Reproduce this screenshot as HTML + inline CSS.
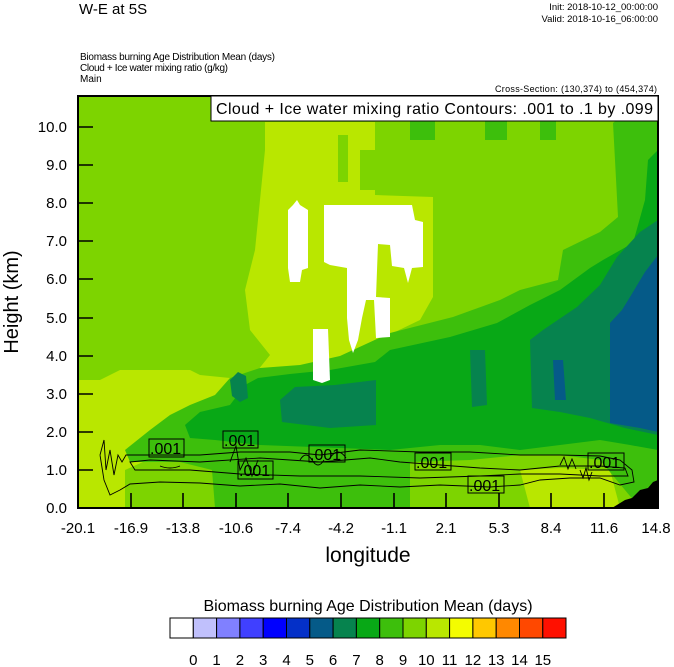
<!DOCTYPE html>
<html><head><meta charset="utf-8"><style>
body{margin:0;background:#fff;width:674px;height:667px;overflow:hidden}
svg{display:block}
text{font-family:"Liberation Sans",Arial,sans-serif;fill:#000}
</style></head><body>
<svg width="674" height="667" viewBox="0 0 674 667" xmlns="http://www.w3.org/2000/svg">
<text x="79" y="14" font-size="15">W-E at 5S</text>
<text x="658" y="10" font-size="9.5" text-anchor="end">Init: 2018-10-12_00:00:00</text>
<text x="658" y="22" font-size="9.5" text-anchor="end">Valid: 2018-10-16_06:00:00</text>
<text x="80" y="60" font-size="10" textLength="195">Biomass burning Age Distribution Mean   (days)</text>
<text x="80" y="71" font-size="10" textLength="148">Cloud + Ice water mixing ratio   (g/kg)</text>
<text x="80" y="82" font-size="10">Main</text>
<text x="657" y="92" font-size="9" text-anchor="end" textLength="162">Cross-Section: (130,374) to (454,374)</text>
<defs><clipPath id="c"><rect x="78" y="96" width="580" height="412"/></clipPath></defs>
<g clip-path="url(#c)">
<rect x="78" y="96" width="580" height="412" fill="#7dd400"/>
<!-- level 10 yellow-green -->
<path fill="#b9e700" d="M265,122 L375,122 L375,195 L433,197 L433,297 L420,320 L395,332 L395,360 L330,370 L270,372 L230,378 L200,375 L190,370 L120,370 L100,380 L78,380 L78,508 L125,508 L125,470 L170,450 L200,430 L255,420 L250,380 L270,355 L250,330 L245,290 L255,250 L260,200 L265,150 Z"/>
<path fill="#7dd400" d="M338,135 L348,135 L348,182 L338,182 Z M360,150 L375,150 L375,190 L360,190 Z"/>
<path fill="#b9e700" d="M520,470 L560,468 L610,470 L620,508 L530,508 Z"/>
<!-- level 8 -->
<path fill="#3dbf0c" d="M125,450 L150,430 L170,415 L190,405 L215,395 L230,378 L260,368 L300,365 L340,356 L390,333 L453,317 L500,300 L520,290 L558,280 L563,250 L600,232 L618,217 L615,160 L613,123 L630,110 L658,100 L658,508 L640,508 L600,460 L560,455 L520,455 L470,460 L410,462 L410,508 L215,508 L212,470 L180,462 L130,462 Z"/>
<path fill="#3dbf0c" d="M410,96 L435,96 L435,140 L410,140 Z M485,96 L507,96 L507,140 L485,140 Z M540,96 L556,96 L556,140 L540,140 Z"/>
<!-- level 7 -->
<path fill="#08a816" d="M185,425 L200,412 L230,405 L245,385 L258,378 L290,374 L330,370 L375,362 L390,350 L450,337 L497,323 L530,305 L560,290 L590,268 L603,260 L633,243 L645,200 L648,160 L658,150 L658,450 L630,445 L600,440 L560,445 L520,450 L480,445 L440,445 L390,450 L340,448 L260,445 L215,440 L190,438 Z"/>
<!-- level 6 teal -->
<path fill="#06834e" d="M280,400 L295,387 L335,385 L376,380 L376,425 L330,428 L282,422 Z"/>
<path fill="#06834e" d="M230,380 L238,372 L246,376 L248,398 L240,402 L232,396 Z"/>
<path fill="#06834e" d="M470,350 L485,350 L487,405 L472,407 Z"/>
<path fill="#06834e" d="M530,340 L543,330 L577,307 L600,285 L617,257 L640,232 L658,220 L658,435 L625,428 L590,418 L560,412 L532,408 Z"/>
<!-- level 5 blue -->
<path fill="#055a88" d="M610,323 L622,310 L630,297 L645,272 L658,255 L658,432 L640,428 L610,423 Z"/>
<path fill="#055a88" d="M553,360 L563,360 L566,400 L555,400 Z"/>
<!-- white clouds -->
<path fill="#fff" d="M293,205 L297,200 L300,205 L308,210 L308,268 L302,270 L300,282 L290,282 L288,268 L288,210 Z"/>
<path fill="#fff" d="M324,205 L412,205 L415,220 L423,222 L423,267 L412,268 L408,283 L404,268 L392,266 L390,245 L378,244 L376,297 L390,298 L390,337 L376,338 L374,300 L366,300 L362,318 L358,340 L353,353 L349,340 L347,318 L347,268 L330,265 L324,262 Z"/>
<path fill="#fff" d="M313,329 L328,329 L330,380 L322,383 L313,380 Z"/>
<!-- black terrain -->
<path fill="#000" d="M612,508 L625,500 L632,498 L640,490 L648,488 L653,482 L658,480 L658,508 Z"/>
<!-- contours -->
<g fill="none" stroke="#000" stroke-width="0.9">
<path d="M100,455 L104,440 L106,470 L110,450 L114,475 L118,455 L122,462 L126,455 L160,455 L200,455 L240,452 L290,452 L320,455 L360,450 L420,452 L470,452 L520,455 L560,455 L600,456 L620,460 L632,470 L634,482 L620,485 L600,478 L570,478 L540,480 L520,485 L490,487 L440,485 L400,487 L360,485 L320,488 L280,484 L240,486 L200,483 L160,482 L130,484 L120,490 L110,495 L104,480 L100,455"/>
<path d="M130,462 L150,460 L200,462 L260,458 L320,462 L370,458 L400,462 L480,468 L520,470 L560,466 L600,466 L625,468 L628,476 L600,476 L560,474 L520,474 L480,476 L420,478 L360,476 L300,476 L240,474 L190,470 L160,470 L135,470 Z"/>
<path d="M160,466 Q170,470 180,466 M230,462 L236,446 L240,470 L246,458 L252,476 L258,460 M300,460 q6,-10 12,0 q6,10 12,0 M330,458 q8,-12 16,0 M560,465 l4,-8 l4,12 l4,-10 l4,10 M580,470 l3,8 l3,-10 l3,12 l3,-8"/>
</g>
<g font-size="16">
<rect x="149" y="439" width="35" height="18" fill="none" stroke="#000"/><text x="150" y="454">.001</text>
<rect x="223" y="431" width="35" height="17" fill="none" stroke="#000"/><text x="224" y="446">.001</text>
<rect x="238" y="461" width="35" height="18" fill="none" stroke="#000"/><text x="239" y="476">.001</text>
<rect x="309" y="445" width="36" height="17" fill="none" stroke="#000"/><text x="310" y="460">.001</text>
<rect x="415" y="453" width="36" height="17" fill="none" stroke="#000"/><text x="416" y="468">.001</text>
<rect x="468" y="476" width="36" height="17" fill="none" stroke="#000"/><text x="469" y="491">.001</text>
<rect x="588" y="453" width="36" height="17" fill="none" stroke="#000"/><text x="589" y="468">.001</text>
</g>
</g>
<rect x="78" y="96" width="580" height="412" fill="none" stroke="#000" stroke-width="2"/>
<rect x="211" y="96" width="447" height="25" fill="#fff" stroke="#000" stroke-width="1"/>
<text x="216" y="114" font-size="16" textLength="437">Cloud + Ice water mixing ratio Contours: .001 to .1 by .099</text>
<!-- ticks -->
<g stroke="#000" stroke-width="1.6">
<path d="M78,470h15M78,432h15M78,394h15M78,356h15M78,318h15M78,279h15M78,241h15M78,203h15M78,165h15M78,127h15"/>
<path d="M131,508v-15M183,508v-15M236,508v-15M288,508v-15M341,508v-15M394,508v-15M446,508v-15M499,508v-15M551,508v-15M604,508v-15"/>
</g>
<g font-size="15" text-anchor="end">
<text x="67" y="513">0.0</text><text x="67" y="475">1.0</text><text x="67" y="437">2.0</text><text x="67" y="399">3.0</text><text x="67" y="361">4.0</text><text x="67" y="323">5.0</text><text x="67" y="284">6.0</text><text x="67" y="246">7.0</text><text x="67" y="208">8.0</text><text x="67" y="170">9.0</text><text x="67" y="132">10.0</text>
</g>
<g font-size="15" text-anchor="middle">
<text x="78" y="533">-20.1</text><text x="131" y="533">-16.9</text><text x="183" y="533">-13.8</text><text x="236" y="533">-10.6</text><text x="288" y="533">-7.4</text><text x="341" y="533">-4.2</text><text x="394" y="533">-1.1</text><text x="446" y="533">2.1</text><text x="499" y="533">5.3</text><text x="551" y="533">8.4</text><text x="604" y="533">11.6</text><text x="656" y="533">14.8</text>
</g>
<text x="368" y="562" font-size="21" text-anchor="middle">longitude</text>
<text transform="translate(18,302) rotate(-90)" font-size="20" text-anchor="middle">Height (km)</text>
<text x="368" y="611" font-size="16" text-anchor="middle">Biomass burning Age Distribution Mean  (days)</text>
<g stroke="#000" stroke-width="1">
<rect x="170" y="618" width="23.3" height="20" fill="#ffffff"/>
<rect x="193.3" y="618" width="23.3" height="20" fill="#c0c0fc"/>
<rect x="216.6" y="618" width="23.3" height="20" fill="#8080ff"/>
<rect x="239.9" y="618" width="23.3" height="20" fill="#4040ff"/>
<rect x="263.2" y="618" width="23.3" height="20" fill="#0000ff"/>
<rect x="286.5" y="618" width="23.3" height="20" fill="#0430c8"/>
<rect x="309.8" y="618" width="23.3" height="20" fill="#055a88"/>
<rect x="333.1" y="618" width="23.3" height="20" fill="#06834e"/>
<rect x="356.4" y="618" width="23.3" height="20" fill="#08a816"/>
<rect x="379.7" y="618" width="23.3" height="20" fill="#3dbf0c"/>
<rect x="403" y="618" width="23.3" height="20" fill="#7dd400"/>
<rect x="426.3" y="618" width="23.3" height="20" fill="#b9e700"/>
<rect x="449.6" y="618" width="23.3" height="20" fill="#f4fc00"/>
<rect x="472.9" y="618" width="23.3" height="20" fill="#ffc800"/>
<rect x="496.2" y="618" width="23.3" height="20" fill="#ff8800"/>
<rect x="519.5" y="618" width="23.3" height="20" fill="#ff4800"/>
<rect x="542.8" y="618" width="23.2" height="20" fill="#ff1000"/>
</g>
<g font-size="15" text-anchor="middle">
<text x="193.3" y="665">0</text><text x="216.6" y="665">1</text><text x="239.9" y="665">2</text><text x="263.2" y="665">3</text><text x="286.5" y="665">4</text><text x="309.8" y="665">5</text><text x="333.1" y="665">6</text><text x="356.4" y="665">7</text><text x="379.7" y="665">8</text><text x="403" y="665">9</text><text x="426.3" y="665">10</text><text x="449.6" y="665">11</text><text x="472.9" y="665">12</text><text x="496.2" y="665">13</text><text x="519.5" y="665">14</text><text x="542.8" y="665">15</text>
</g>
</svg>
</body></html>
